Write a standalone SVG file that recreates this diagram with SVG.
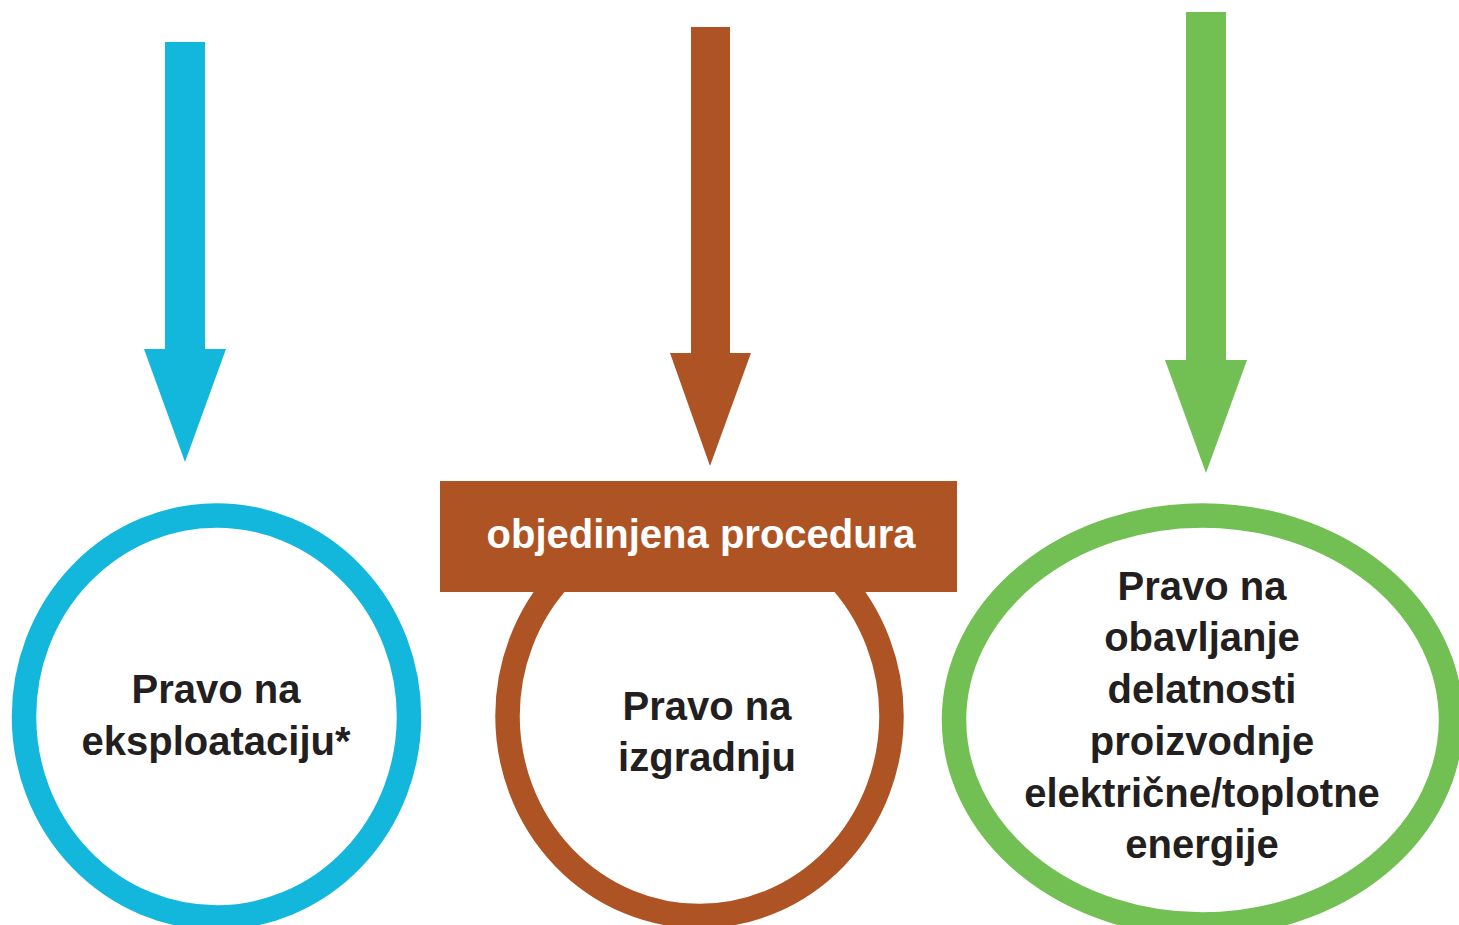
<svg xmlns="http://www.w3.org/2000/svg" width="1459" height="925" viewBox="0 0 1459 925">
<style>
.lbl{font-family:"Liberation Sans",Arial,sans-serif;font-weight:bold;font-size:40px;fill:#231f20;text-anchor:middle}
.hdr{font-family:"Liberation Sans",Arial,sans-serif;font-weight:bold;font-size:40px;fill:#ffffff;text-anchor:middle}
.ring{fill:#ffffff;stroke-width:24.5}
</style>
<rect width="1459" height="925" fill="#ffffff"/>
<g id="connectors">
<polygon fill="#13b7dc" points="165,42 205,42 205,349 226,349 185,462 144,349 165,349"/>
<polygon fill="#ae5424" points="691,27 730,27 730,353 751,353 710,466 670,353 691,353"/>
<polygon fill="#72bf53" points="1186,12 1226,12 1226,360 1247,360 1206,473 1165,360 1186,360"/>
</g>
<g id="node-eksploatacija">
<ellipse class="ring" cx="216.5" cy="716.5" rx="192.5" ry="201" stroke="#13b7dc"/>
<text class="lbl" x="216" y="703">Pravo na</text>
<text class="lbl" x="216" y="755">eksploataciju*</text>
</g>
<g id="node-izgradnja">
<ellipse class="ring" cx="699.5" cy="716" rx="192" ry="200" stroke="#ae5424"/>
<rect x="440" y="481" width="517" height="111" fill="#ae5424"/>
<text class="hdr" x="701" y="548">objedinjena procedura</text>
<text class="lbl" x="707" y="720">Pravo na</text>
<text class="lbl" x="707" y="771">izgradnju</text>
</g>
<g id="node-delatnost">
<ellipse class="ring" cx="1202.5" cy="720" rx="248.5" ry="204.5" stroke="#72bf53"/>
<text class="lbl" x="1202" y="600">Pravo na</text>
<text class="lbl" x="1202" y="651">obavljanje</text>
<text class="lbl" x="1202" y="703">delatnosti</text>
<text class="lbl" x="1202" y="755">proizvodnje</text>
<text class="lbl" x="1202" y="807">električne/toplotne</text>
<text class="lbl" x="1202" y="858">energije</text>
</g>
</svg>
